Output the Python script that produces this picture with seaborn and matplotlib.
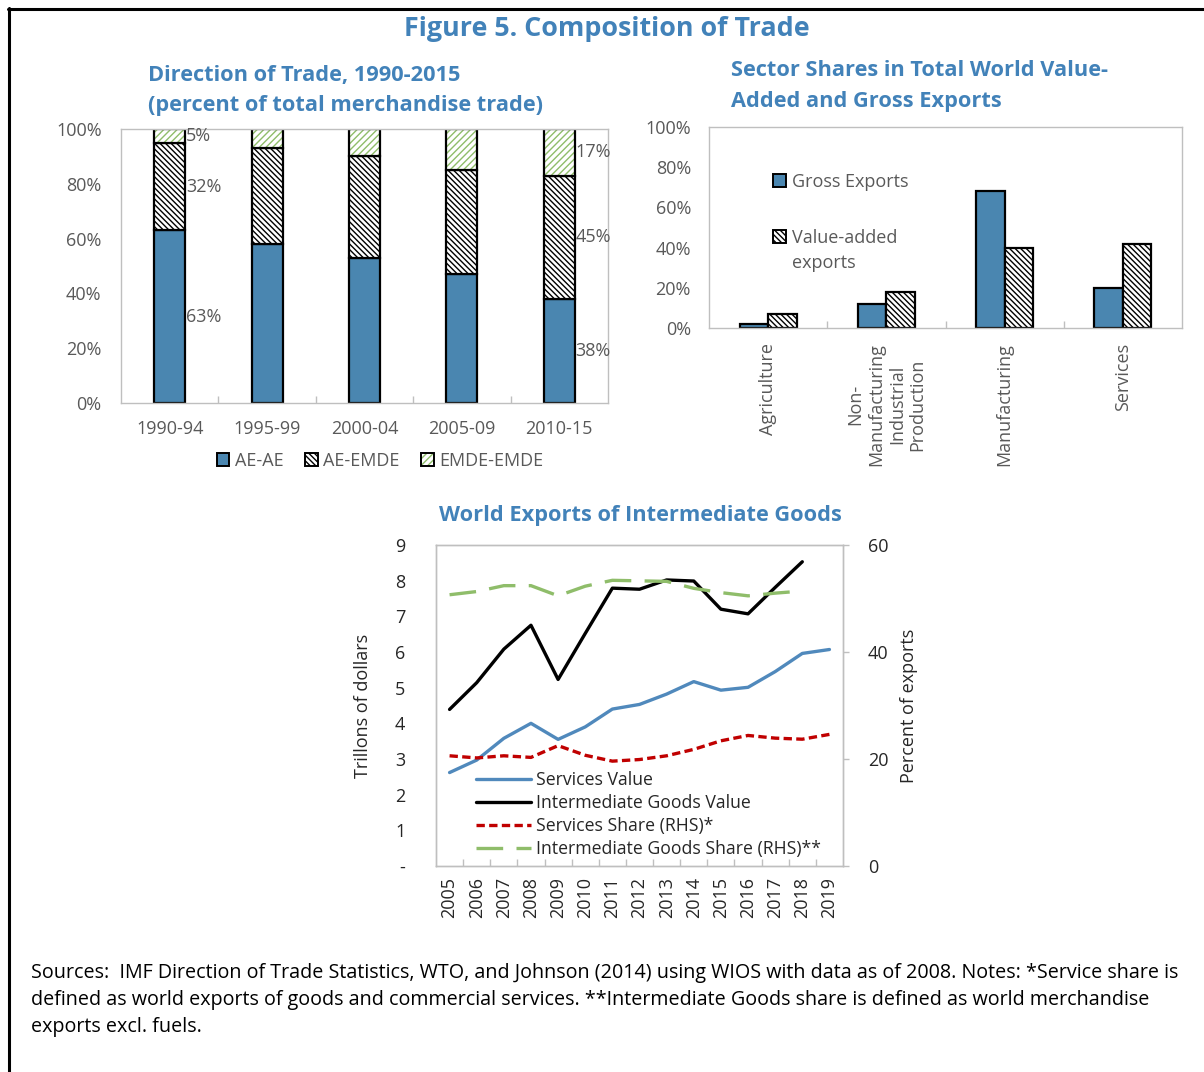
import numpy as np
import pandas as pd
import matplotlib
matplotlib.use("Agg")
import matplotlib.pyplot as plt
import matplotlib.patches as mpatches
from matplotlib.lines import Line2D
from matplotlib.ticker import FixedLocator
from matplotlib.legend_handler import HandlerTuple
import seaborn as sns

# ---------------- Data ----------------
periods = ["1990-94", "1995-99", "2000-04", "2005-09", "2010-15"]
ae_ae = [63, 58, 53, 47, 38]
ae_emde = [32, 35, 37, 38, 45]
emde_emde = [5, 7, 10, 15, 17]

sectors = ["Agriculture", "Non-\nManufacturing\nIndustrial\nProduction",
           "Manufacturing", "Services"]
gross_exports = [2, 12, 68, 20]
value_added = [7, 18, 40, 42]

years = [str(y) for y in range(2005, 2020)]
services_value = [2.62, 2.97, 3.58, 4.00, 3.55, 3.90, 4.40, 4.53, 4.82, 5.17,
                  4.93, 5.01, 5.45, 5.96, 6.07]
interm_value = [4.39, 5.14, 6.08, 6.75, 5.23, 6.52, 7.79, 7.76, 8.02, 7.99,
                7.20, 7.07, 7.81, 8.53, np.nan]
services_share = [20.6, 20.2, 20.6, 20.3, 22.5, 20.7, 19.6, 19.9, 20.6, 21.8,
                  23.4, 24.4, 23.9, 23.7, 24.6]
interm_share = [50.7, 51.3, 52.4, 52.4, 50.5, 52.3, 53.4, 53.3, 53.2, 51.9,
                51.1, 50.5, 51.0, 51.4, np.nan]

# ---------------- Style ----------------
sns.set_theme(style="white")
plt.rcParams['font.family'] = ['Open Sans', 'DejaVu Sans']
plt.rcParams['hatch.linewidth'] = 1.0

TITLE_BLUE = "#4282B9"
BAR_BLUE = "#4A86B0"
LINE_BLUE = "#5089BC"
GREEN = "#8FBD6A"
RED = "#C00000"
GRAY_SPINE = "#BFBFBF"
TICK_GRAY = "#595959"
BS = "\\" * 6
GH = "/" * 5
FS = 13
TFS = 15.7

W, H = 1204, 1072
fig = plt.figure(figsize=(W / 100, H / 100), dpi=100)


def rect(l, t, r, b):
    return [l / W, 1 - b / H, (r - l) / W, (b - t) / H]


def style_box(ax):
    for s in ax.spines.values():
        s.set_visible(True)
        s.set_color(GRAY_SPINE)
        s.set_linewidth(1.0)


# ---------------- Panel 1: Direction of trade ----------------
ax1 = fig.add_axes(rect(121, 129, 608, 403))
df1 = pd.DataFrame({"period": periods, "ae_ae": ae_ae,
                    "ae_emde": ae_emde, "emde_emde": emde_emde})
bottom2 = df1["ae_ae"].to_numpy()
bottom3 = (df1["ae_ae"] + df1["ae_emde"]).to_numpy()
BW = 0.32
sns.barplot(data=df1, x="period", y="ae_ae", color=BAR_BLUE, saturation=1,
            width=BW, edgecolor="black", linewidth=1.6, ax=ax1)
sns.barplot(data=df1, x="period", y="ae_emde", color="white", saturation=1,
            width=BW, edgecolor="black", linewidth=1.6, hatch=BS,
            bottom=bottom2, ax=ax1)
sns.barplot(data=df1, x="period", y="emde_emde", color="white", saturation=1,
            width=BW, edgecolor=GREEN, linewidth=0, hatch=GH,
            bottom=bottom3, ax=ax1)
sns.barplot(data=df1, x="period", y="emde_emde", color="black", saturation=1,
            width=BW, facecolor="none", edgecolor="black", linewidth=1.6,
            bottom=bottom3, ax=ax1)

ax1.set_xlim(-0.5, 4.5)
ax1.set_ylim(0, 100)
ax1.set_xlabel("")
ax1.set_ylabel("")
ax1.yaxis.set_major_locator(FixedLocator(range(0, 101, 20)))
ax1.set_yticklabels([f"{v}%" for v in range(0, 101, 20)])
ax1.xaxis.set_minor_locator(FixedLocator([0.5, 1.5, 2.5, 3.5]))
style_box(ax1)
ax1.tick_params(axis="x", which="major", length=0, pad=12, labelsize=FS,
                labelcolor=TICK_GRAY)
ax1.tick_params(axis="x", which="minor", bottom=True, direction="in",
                length=5, width=1, color=GRAY_SPINE)
ax1.tick_params(axis="y", which="major", length=0, pad=14, labelsize=FS,
                labelcolor=TICK_GRAY)

# segment labels on first and last bar
for i in (0, len(periods) - 1):
    segs = [ae_ae[i], ae_emde[i], emde_emde[i]]
    base = 0
    for v in segs:
        ax1.text(i + BW / 2 + 0.005, base + v / 2, f"{v}%", ha="left",
                 va="center", fontsize=FS, color=TICK_GRAY)
        base += v

h_ae = mpatches.Patch(facecolor=BAR_BLUE, edgecolor="black", linewidth=1.4)
h_em = mpatches.Patch(facecolor="white", edgecolor="black", hatch=BS,
                      linewidth=1.4)
h_ee = (mpatches.Patch(facecolor="white", edgecolor=GREEN, hatch=GH,
                       linewidth=0),
        mpatches.Patch(facecolor="none", edgecolor="black", linewidth=1.4))
fig.legend([h_ae, h_em, h_ee], ["AE-AE", "AE-EMDE", "EMDE-EMDE"],
           handler_map={tuple: HandlerTuple(ndivide=1)},
           loc="center", bbox_to_anchor=(380 / W, 1 - 461 / H), ncol=3,
           frameon=False, fontsize=FS, handlelength=0.7, handleheight=0.7,
           handletextpad=0.3, columnspacing=1.2, labelcolor=TICK_GRAY)

# ---------------- Panel 2: Sector shares ----------------
ax2 = fig.add_axes(rect(709, 127, 1182, 328))
df2 = pd.DataFrame({
    "sector": sectors * 2,
    "measure": ["Gross Exports"] * len(sectors) + ["Value-added exports"] * len(sectors),
    "share": gross_exports + value_added,
})
sns.barplot(data=df2, x="sector", y="share", hue="measure",
            palette=[BAR_BLUE, "white"], saturation=1, width=0.48,
            edgecolor="black", linewidth=1.6, legend=False, ax=ax2)
for p in ax2.containers[1]:
    p.set_hatch(BS)
ax2.set_xlim(-0.5, 3.5)
ax2.set_ylim(0, 100)
ax2.set_xlabel("")
ax2.set_ylabel("")
ax2.yaxis.set_major_locator(FixedLocator(range(0, 101, 20)))
ax2.set_yticklabels([f"{v}%" for v in range(0, 101, 20)])
ax2.set_xticks(range(len(sectors)))
ax2.set_xticklabels(sectors, rotation=90, ha="center", va="top",
                    multialignment="center")
ax2.xaxis.set_minor_locator(FixedLocator([0.5, 1.5, 2.5]))
style_box(ax2)
ax2.tick_params(axis="x", which="major", length=0, pad=11, labelsize=FS,
                labelcolor=TICK_GRAY)
ax2.tick_params(axis="x", which="minor", bottom=True, direction="in",
                length=5, width=1, color=GRAY_SPINE)
ax2.tick_params(axis="y", which="major", length=0, pad=13, labelsize=FS,
                labelcolor=TICK_GRAY)

legA = ax2.legend([mpatches.Patch(facecolor=BAR_BLUE, edgecolor="black", linewidth=1.4)],
                  ["Gross Exports"], loc="center left",
                  bbox_to_anchor=((773 - 709) / 473, (328 - 182) / 201),
                  frameon=False, fontsize=FS, handlelength=0.7,
                  handleheight=0.7, handletextpad=0.35, borderpad=0,
                  borderaxespad=0, labelcolor=TICK_GRAY)
ax2.add_artist(legA)
ax2.legend([mpatches.Patch(facecolor="white", edgecolor="black", hatch=BS, linewidth=1.4),
            mpatches.Patch(facecolor="none", edgecolor="none")],
           ["Value-added", "exports"], loc="upper left",
           bbox_to_anchor=((773 - 709) / 473, (328 - 229) / 201),
           frameon=False, fontsize=FS, handlelength=0.7, handleheight=0.7,
           handletextpad=0.35, borderpad=0, borderaxespad=0,
           labelspacing=0.4, labelcolor=TICK_GRAY)

# ---------------- Panel 3: World exports ----------------
ax3 = fig.add_axes(rect(436, 545, 843, 866))
idx = np.arange(len(years))
df3 = pd.DataFrame({"idx": idx, "services_value": services_value,
                    "interm_value": interm_value,
                    "services_share": services_share,
                    "interm_share": interm_share})
sns.lineplot(data=df3, x="idx", y="services_value", color=LINE_BLUE,
             linewidth=2.4, ax=ax3)
sns.lineplot(data=df3, x="idx", y="interm_value", color="black",
             linewidth=2.4, ax=ax3)
ax4 = ax3.twinx()
sns.lineplot(data=df3, x="idx", y="services_share", color=RED,
             linewidth=2.4, ax=ax4)
ax4.lines[-1].set_dashes([2.5, 1.3])
sns.lineplot(data=df3, x="idx", y="interm_share", color=GREEN,
             linewidth=2.4, ax=ax4)
ax4.lines[-1].set_dashes([8, 4])

ax3.set_xlim(-0.5, len(years) - 0.5)
ax3.set_ylim(0, 9)
ax4.set_ylim(0, 60)
ax3.set_xticks(idx)
ax3.set_xticklabels(years, rotation=90)
ax3.xaxis.set_minor_locator(FixedLocator(np.arange(0.5, len(years) - 1, 1.0)))
ax3.yaxis.set_major_locator(FixedLocator(range(0, 10)))
ax3.set_yticklabels(["-"] + [str(v) for v in range(1, 10)])
ax4.yaxis.set_major_locator(FixedLocator([0, 20, 40, 60]))
ax4.set_yticklabels(["0", "20", "40", "60"])
ax3.set_xlabel("")
ax3.set_ylabel("Trillons of dollars", fontsize=FS, color="#262626")
ax4.set_ylabel("Percent of exports", fontsize=FS, color="#262626")
ax3.yaxis.set_label_coords((372 - 436) / 407, 0.5)
ax4.yaxis.set_label_coords((900 - 436) / 407, 0.5)
style_box(ax3)
style_box(ax4)
ax3.tick_params(axis="x", which="major", length=0, pad=8, labelsize=FS,
                labelcolor="#262626")
ax3.tick_params(axis="x", which="minor", bottom=True, direction="in",
                length=5, width=1, color=GRAY_SPINE)
ax3.tick_params(axis="y", which="major", length=0, pad=22, labelsize=FS,
                labelcolor="#262626")
ax4.tick_params(axis="y", which="major", right=True, length=4, width=1,
                color=GRAY_SPINE, pad=14, labelsize=FS, labelcolor="#262626")

handles = [ax3.lines[0], ax3.lines[1], ax4.lines[0], ax4.lines[1]]
labels = ["Services Value", "Intermediate Goods Value",
          "Services Share (RHS)*", "Intermediate Goods Share (RHS)**"]
ax4.legend(handles, labels, loc="lower left",
           bbox_to_anchor=((476 - 436) / 407, 0.025), frameon=False,
           fontsize=12.7, handlelength=3.1, handletextpad=0.3,
           labelspacing=0.28, borderpad=0, borderaxespad=0,
           labelcolor="#262626")

# ---------------- Titles ----------------
fig.text(607 / W, 1 - 29 / H, "Figure 5. Composition of Trade", ha="center",
         va="center", fontsize=19.4, fontweight="bold", color=TITLE_BLUE)
fig.text(148 / W, 1 - 76 / H, "Direction of Trade, 1990-2015", ha="left",
         va="center", fontsize=TFS, fontweight="bold", color=TITLE_BLUE)
fig.text(148 / W, 1 - 106 / H, "(percent of total merchandise trade)",
         ha="left", va="center", fontsize=TFS, fontweight="bold",
         color=TITLE_BLUE)
fig.text(731 / W, 1 - 70 / H, "Sector Shares in Total World Value-",
         ha="left", va="center", fontsize=TFS, fontweight="bold",
         color=TITLE_BLUE)
fig.text(731 / W, 1 - 101 / H, "Added and Gross Exports", ha="left",
         va="center", fontsize=TFS, fontweight="bold", color=TITLE_BLUE)
fig.text(640 / W, 1 - 516 / H, "World Exports of Intermediate Goods",
         ha="center", va="center", fontsize=TFS, fontweight="bold",
         color=TITLE_BLUE)

# ---------------- Footnote ----------------
foot = ["Sources:  IMF Direction of Trade Statistics, WTO, and Johnson (2014) using WIOS with data as of 2008. Notes: *Service share is",
        "defined as world exports of goods and commercial services. **Intermediate Goods share is defined as world merchandise",
        "exports excl. fuels."]
for k, line in enumerate(foot):
    fig.text(31 / W, 1 - (973 + 27 * k) / H, line, ha="left", va="center",
             fontsize=14.2, color="black")

# ---------------- Border ----------------
fig.add_artist(Line2D([8 / W, 1], [1 - 9 / H, 1 - 9 / H],
                      transform=fig.transFigure, color="black", linewidth=2.2))
fig.add_artist(Line2D([9 / W, 9 / W], [0, 1 - 8 / H],
                      transform=fig.transFigure, color="black", linewidth=2.2))

fig.savefig("out.png", dpi=100)
